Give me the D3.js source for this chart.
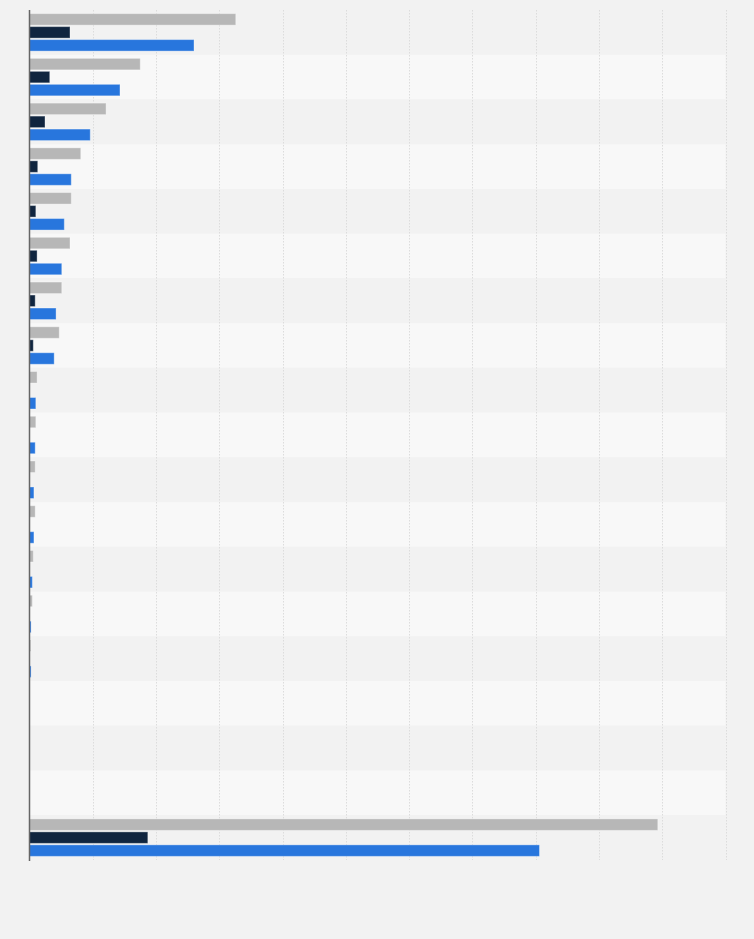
<!DOCTYPE html>
<html>
<head>
<meta charset="utf-8">
<script src="https://cdn.jsdelivr.net/npm/d3@7"></script>
<style>
  body { margin: 0; background: #f2f2f2; }
  svg { display: block; }
</style>
</head>
<body>
<svg id="chart" width="754" height="939"></svg>
<script>
// categories (no labels shown in the picture)
var categories = ["c1","c2","c3","c4","c5","c6","c7","c8","c9","c10",
                  "c11","c12","c13","c14","c15","c16","c17","c18","c19"];
var seriesNames = ["gray","navy","blue"];
var grayValues = [326,175,121,81,66,64,51,47,12,10,9,9,6,4.5,2,0,0,0,993];
var navyValues = [64,32,24.5,13,10,12,9,6,0.5,0.5,0.3,0.3,0.2,0.1,0.1,0,0,0,187];
var blueValues = [260,143,96,66,55,51,42,39,10,9,7,7,4.5,2.5,2.5,0,0,0,806];
var xTicks = [0,100,200,300,400,500,600,700,800,900,1000,1100];
var colors = ["#b7b7b7","#10253f","#2876dd"];

var svg = d3.select("#chart");
var margin = {top:10, left:29.5, right:754-725.5, bottom:939-860};
var W = 754, H = 939;

var x = d3.scaleLinear().domain([0,1100]).range([margin.left, W-margin.right]);
var y = d3.scaleBand().domain(categories).range([margin.top, H-margin.bottom]).padding(0);
var y1 = d3.scaleBand().domain(seriesNames).range([0, y.bandwidth()]).paddingInner(0.115).paddingOuter(0.28);

var rows = categories.map(function(c,i){
  return {cat:c, vals:[grayValues[i], navyValues[i], blueValues[i]]};
});

// striped row backgrounds
svg.append("g").selectAll("rect").data(categories).enter().append("rect")
  .attr("x", x(0))
  .attr("y", function(d){ return y(d); })
  .attr("width", x(1100)-x(0))
  .attr("height", y.bandwidth())
  .attr("fill", function(d,i){ return i%2===0 ? "#f2f2f2" : "#f8f8f8"; });

// dashed vertical grid
svg.append("g").selectAll("line").data(xTicks.slice(1)).enter().append("line")
  .attr("x1", function(d){ return Math.round(x(d))+0.5; })
  .attr("x2", function(d){ return Math.round(x(d))+0.5; })
  .attr("y1", margin.top)
  .attr("y2", H-margin.bottom)
  .attr("stroke", "#dcdcdc")
  .attr("stroke-dasharray", "1.5,1.5");

// bars
var g = svg.append("g").selectAll("g").data(rows).enter().append("g")
  .attr("transform", function(d){ return "translate(0,"+y(d.cat)+")"; });
g.selectAll("rect").data(function(d){ return d.vals.map(function(v,i){ return {s:seriesNames[i], v:v, i:i}; }); })
  .enter().append("rect")
  .attr("x", x(0))
  .attr("y", function(d){ return y1(d.s); })
  .attr("width", function(d){ return x(d.v)-x(0); })
  .attr("height", y1.bandwidth())
  .attr("fill", function(d){ return colors[d.i]; })
  .attr("stroke", "rgba(255,255,255,0.35)")
  .attr("stroke-width", function(d){ return d.v>0 ? 1 : 0; });

// y axis line
svg.append("line")
  .attr("x1", x(0)).attr("x2", x(0))
  .attr("y1", margin.top).attr("y2", H-margin.bottom+1)
  .attr("stroke", "#666").attr("stroke-width", 1.5);
</script>
</body>
</html>
